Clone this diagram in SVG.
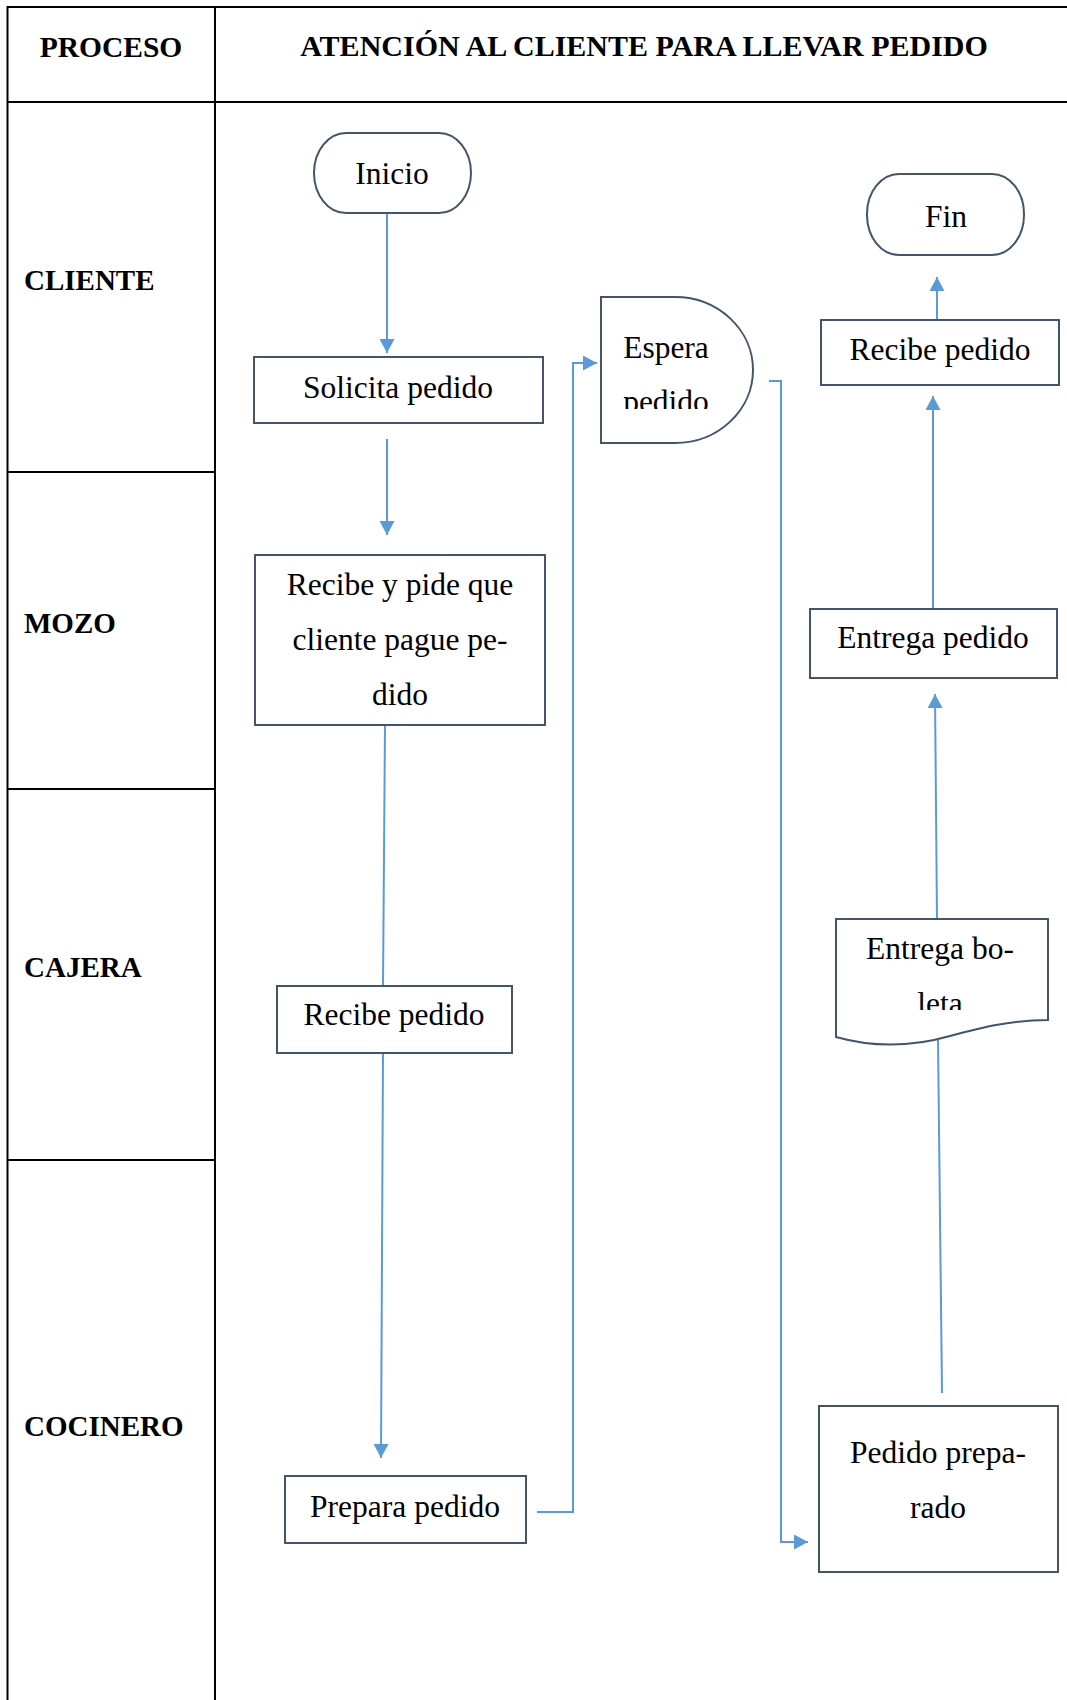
<svg xmlns="http://www.w3.org/2000/svg" width="1067" height="1700" viewBox="0 0 1067 1700">
<style>
.grid{stroke:#000;stroke-width:2;fill:none}
.hdr{font-family:"Liberation Serif","Times New Roman",serif;font-weight:bold;font-size:29px;fill:#000}
.node{fill:#fff;stroke:#44546A;stroke-width:2}
.t{font-family:"Liberation Serif","Times New Roman",serif;font-size:31.5px;fill:#000;text-anchor:middle}
.c{fill:none;stroke:#5B9BD5;stroke-width:2}
</style>
<defs>
<marker id="ah" markerUnits="userSpaceOnUse" markerWidth="15" markerHeight="15" refX="14" refY="7.5" orient="auto">
<path d="M0,0 L14,7.5 L0,15 z" fill="#5B9BD5"/>
</marker>
<clipPath id="clipEspera"><rect x="601" y="297" width="160" height="112"/></clipPath>
<clipPath id="clipBoleta"><rect x="836" y="919" width="212" height="91"/></clipPath>
</defs>
<rect width="1067" height="1700" fill="#fff"/>
<g id="table">
<line class="grid" x1="7.5" y1="7" x2="1067" y2="7"/>
<line class="grid" x1="7.5" y1="102" x2="1067" y2="102"/>
<line class="grid" x1="7.5" y1="6" x2="7.5" y2="1700"/>
<line class="grid" x1="215" y1="6" x2="215" y2="1700"/>
<line class="grid" x1="7.5" y1="472" x2="215" y2="472"/>
<line class="grid" x1="7.5" y1="789" x2="215" y2="789"/>
<line class="grid" x1="7.5" y1="1160" x2="215" y2="1160"/>
<text class="hdr" x="111" y="57" text-anchor="middle" style="font-size:29.5px">PROCESO</text>
<text class="hdr" x="644" y="56" text-anchor="middle" style="font-size:30px">ATENCIÓN AL CLIENTE PARA LLEVAR PEDIDO</text>
<text class="hdr" x="24" y="290">CLIENTE</text>
<text class="hdr" x="24" y="633">MOZO</text>
<text class="hdr" x="24" y="977">CAJERA</text>
<text class="hdr" x="24" y="1436">COCINERO</text>
</g>
<g id="connectors">
<line class="c" x1="387" y1="213" x2="387" y2="353" marker-end="url(#ah)"/>
<line class="c" x1="387" y1="439" x2="387" y2="535" marker-end="url(#ah)"/>
<line class="c" x1="385" y1="725" x2="383" y2="986"/>
<line class="c" x1="383" y1="1053" x2="381" y2="1458" marker-end="url(#ah)"/>
<polyline class="c" points="537,1512 573,1512 573,363 597,363" marker-end="url(#ah)"/>
<polyline class="c" points="769,381 781,381 781,1542 808,1542" marker-end="url(#ah)"/>
<line class="c" x1="942" y1="1393" x2="938" y2="1040"/>
<line class="c" x1="937" y1="919" x2="935" y2="694" marker-end="url(#ah)"/>
<line class="c" x1="933" y1="609" x2="933" y2="396" marker-end="url(#ah)"/>
<line class="c" x1="937" y1="320" x2="937" y2="277" marker-end="url(#ah)"/>
</g>
<g id="inicio">
<rect class="node" x="314" y="133" width="157" height="80" rx="32" ry="40"/>
<text class="t" x="392" y="184">Inicio</text>
</g>
<g id="solicita">
<rect class="node" x="254" y="357" width="289" height="66"/>
<text class="t" x="398" y="398">Solicita pedido</text>
</g>
<g id="recibe-pide">
<rect class="node" x="255" y="555" width="290" height="170"/>
<text class="t" x="400" y="595">Recibe y pide que</text>
<text class="t" x="400" y="650">cliente pague pe-</text>
<text class="t" x="400" y="705">dido</text>
</g>
<g id="recibe-cajera">
<rect class="node" x="277" y="986" width="235" height="67"/>
<text class="t" x="394" y="1025">Recibe pedido</text>
</g>
<g id="prepara">
<rect class="node" x="285" y="1476" width="241" height="67"/>
<text class="t" x="405" y="1517">Prepara pedido</text>
</g>
<g id="espera">
<path class="node" d="M601,297 L675,297 A78,73 0 0 1 675,443 L601,443 Z"/>
<g clip-path="url(#clipEspera)">
<text class="t" x="666" y="358">Espera</text>
<text class="t" x="666" y="412">pedido</text>
</g>
</g>
<g id="pedido-preparado">
<rect class="node" x="819" y="1406" width="239" height="166"/>
<text class="t" x="938" y="1463">Pedido prepa-</text>
<text class="t" x="938" y="1518">rado</text>
</g>
<g id="boleta">
<path class="node" d="M836,919 L1048,919 L1048,1020 C1010,1020 980,1028 950,1036 C915,1046 875,1048 836,1037 Z"/>
<g clip-path="url(#clipBoleta)">
<text class="t" x="940" y="959">Entrega bo-</text>
<text class="t" x="940" y="1014">leta</text>
</g>
</g>
<g id="entrega-pedido">
<rect class="node" x="810" y="609" width="247" height="69"/>
<text class="t" x="933" y="648">Entrega pedido</text>
</g>
<g id="recibe-cliente">
<rect class="node" x="821" y="320" width="238" height="65"/>
<text class="t" x="940" y="360">Recibe pedido</text>
</g>
<g id="fin">
<rect class="node" x="867" y="174" width="157" height="81" rx="32" ry="40"/>
<text class="t" x="946" y="227">Fin</text>
</g>
</svg>
